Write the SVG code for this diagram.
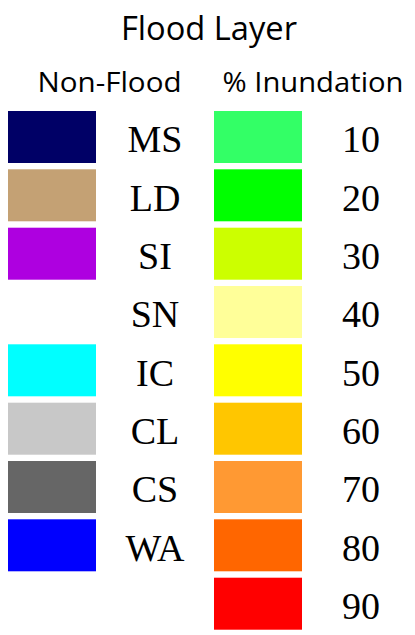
<svg xmlns="http://www.w3.org/2000/svg" width="415" height="635" viewBox="0 0 415 635">
<style>
.h{font-family:"Open Sans","Liberation Sans",sans-serif;fill:#000;text-anchor:middle}
.l{font-family:"Liberation Serif","Times New Roman",serif;font-size:38px;fill:#000;text-anchor:middle}
</style>
<rect width="415" height="635" fill="#fff"/>
<g id="title">
<text class="h" x="209" y="40" font-size="33" textLength="176" lengthAdjust="spacingAndGlyphs">Flood Layer</text>
<text class="h" x="109.5" y="91.5" font-size="27" textLength="144" lengthAdjust="spacingAndGlyphs">Non-Flood</text>
<text class="h" x="313" y="91.5" font-size="27" textLength="181" lengthAdjust="spacingAndGlyphs">% Inundation</text>
</g>
<g id="nonflood">
<g id="MS"><rect x="8" y="111" width="88" height="52" fill="#000066"/><text class="l" x="155" y="152.3">MS</text></g>
<g id="LD"><rect x="8" y="169.3" width="88" height="52" fill="#C4A174"/><text class="l" x="155" y="210.6">LD</text></g>
<g id="SI"><rect x="8" y="227.7" width="88" height="52" fill="#AE00E0"/><text class="l" x="155" y="269">SI</text></g>
<g id="SN"><text class="l" x="155" y="327.3">SN</text></g>
<g id="IC"><rect x="8" y="344.3" width="88" height="52" fill="#00FFFF"/><text class="l" x="155" y="385.6">IC</text></g>
<g id="CL"><rect x="8" y="402.7" width="88" height="52" fill="#C8C8C8"/><text class="l" x="155" y="444">CL</text></g>
<g id="CS"><rect x="8" y="461" width="88" height="52" fill="#666666"/><text class="l" x="155" y="502.3">CS</text></g>
<g id="WA"><rect x="8" y="519.3" width="88" height="52" fill="#0000FF"/><text class="l" x="155" y="560.6">WA</text></g>
</g>
<g id="inundation">
<g id="p10"><rect x="214" y="111" width="88" height="52" fill="#33FF66"/><text class="l" x="361" y="152.3">10</text></g>
<g id="p20"><rect x="214" y="169.3" width="88" height="52" fill="#00FF00"/><text class="l" x="361" y="210.6">20</text></g>
<g id="p30"><rect x="214" y="227.7" width="88" height="52" fill="#CCFF00"/><text class="l" x="361" y="269">30</text></g>
<g id="p40"><rect x="214" y="286" width="88" height="52" fill="#FFFF99"/><text class="l" x="361" y="327.3">40</text></g>
<g id="p50"><rect x="214" y="344.3" width="88" height="52" fill="#FFFF00"/><text class="l" x="361" y="385.6">50</text></g>
<g id="p60"><rect x="214" y="402.7" width="88" height="52" fill="#FFC600"/><text class="l" x="361" y="444">60</text></g>
<g id="p70"><rect x="214" y="461" width="88" height="52" fill="#FF9933"/><text class="l" x="361" y="502.3">70</text></g>
<g id="p80"><rect x="214" y="519.3" width="88" height="52" fill="#FF6600"/><text class="l" x="361" y="560.6">80</text></g>
<g id="p90"><rect x="214" y="577.7" width="88" height="52" fill="#FF0000"/><text class="l" x="361" y="619">90</text></g>
</g>
<g id="connectors"/>
</svg>
